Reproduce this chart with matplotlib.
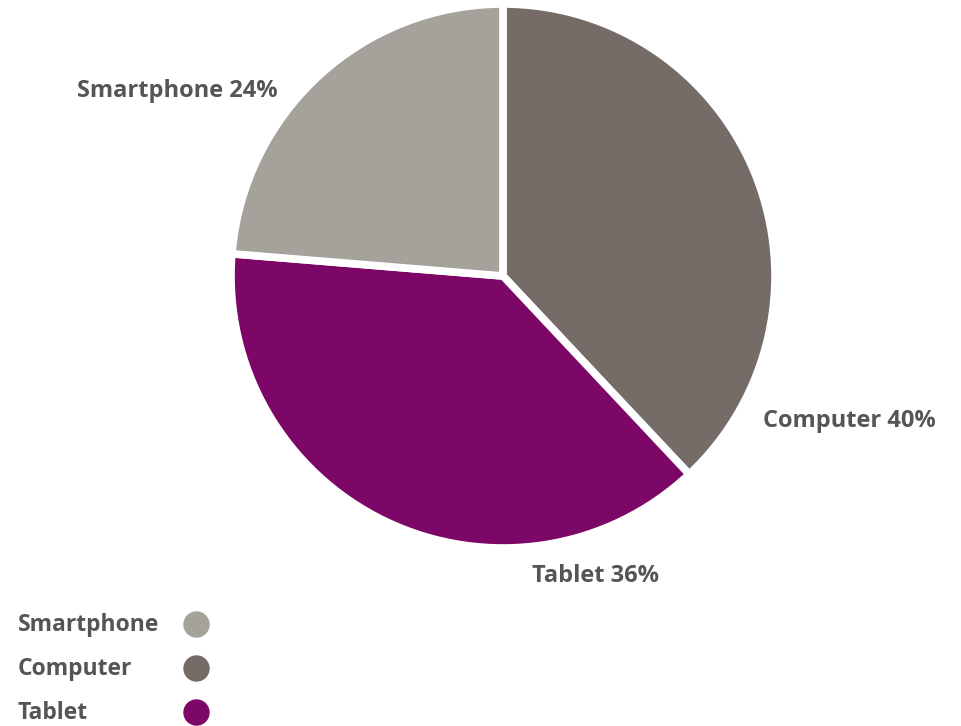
import matplotlib.pyplot as plt

# data
categories = ['Computer', 'Tablet', 'Smartphone']
label_pct = [40, 36, 24]          # numbers printed on the chart
slice_sizes = [38.0, 38.3, 23.7]  # slice sizes as drawn in the picture
colors = ['#756c67', '#7d0766', '#a5a29b']
legend_order = ['Smartphone', 'Computer', 'Tablet']

# where the slice labels sit (figure fraction)
label_pos = {'Computer': (0.884, 0.42), 'Tablet': (0.620, 0.207), 'Smartphone': (0.185, 0.875)}

text_color = '#555555'
plt.rcParams['font.family'] = ['Open Sans', 'DejaVu Sans']

fig = plt.figure(figsize=(9.61, 7.26), dpi=100)
ax = fig.add_axes([231 / 961, 1 - 548 / 726, 544 / 961, 544 / 726])

ax.pie(slice_sizes, colors=colors, startangle=90, counterclock=False,
       wedgeprops=dict(edgecolor='white', linewidth=5.5))
ax.set_aspect('equal')
ax.set_xlim(-1, 1)
ax.set_ylim(-1, 1)

for cat, val in zip(categories, label_pct):
    x, y = label_pos[cat]
    fig.text(x, y, '{} {}%'.format(cat, val), ha='center', va='center',
             fontsize=17, fontweight='bold', color=text_color)

# legend: text left aligned, dots in a column to the right
leg_ax = fig.add_axes([0, 0, 1, 1])
leg_ax.set_xlim(0, 961)
leg_ax.set_ylim(726, 0)
leg_ax.axis('off')
for i, cat in enumerate(legend_order):
    y = 624 + i * 44
    leg_ax.text(18, y + 1, cat, ha='left', va='center', fontsize=16.5,
                fontweight='bold', color=text_color)
    leg_ax.plot(196, y, 'o', markersize=18, color=colors[categories.index(cat)],
                clip_on=False)

fig.savefig('out.png', dpi=100)
